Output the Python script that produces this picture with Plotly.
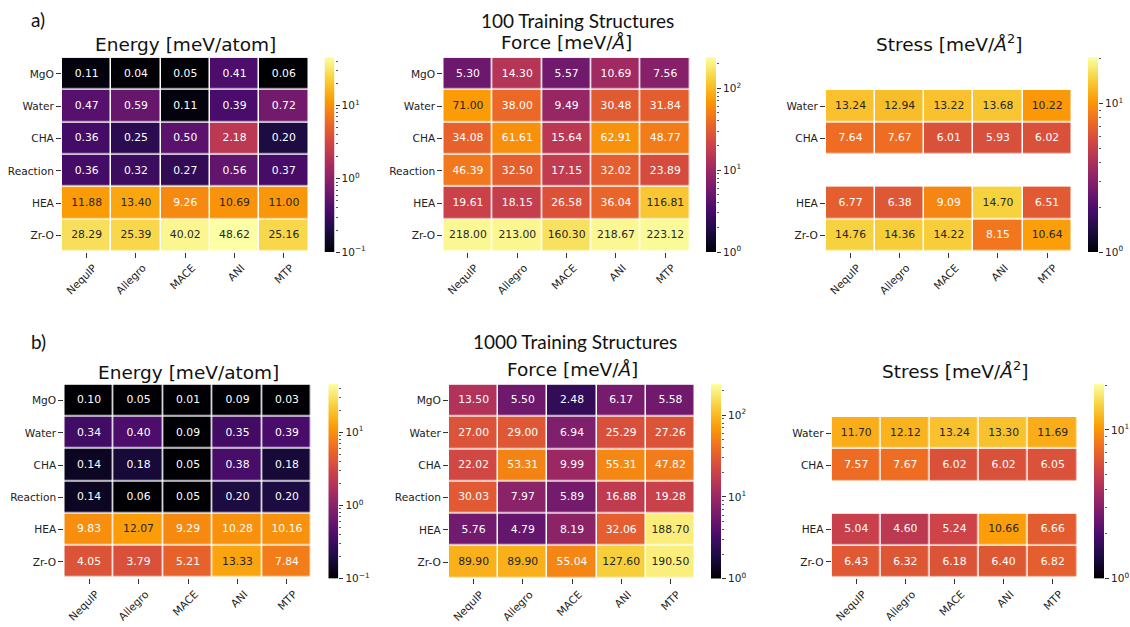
import numpy as np
import plotly.graph_objects as go
import plotly.colors as pc

# ---------------- data ----------------
models = ["NequIP", "Allegro", "MACE", "ANI", "MTP"]
systems = ["MgO", "Water", "CHA", "Reaction", "HEA", "Zr-O"]

energy_100 = [
    [0.11, 0.04, 0.05, 0.41, 0.06],
    [0.47, 0.59, 0.11, 0.39, 0.72],
    [0.36, 0.25, 0.50, 2.18, 0.20],
    [0.36, 0.32, 0.27, 0.56, 0.37],
    [11.88, 13.40, 9.26, 10.69, 11.00],
    [28.29, 25.39, 40.02, 48.62, 25.16],
]
force_100 = [
    [5.30, 14.30, 5.57, 10.69, 7.56],
    [71.00, 38.00, 9.49, 30.48, 31.84],
    [34.08, 61.61, 15.64, 62.91, 48.77],
    [46.39, 32.50, 17.15, 32.02, 23.89],
    [19.61, 18.15, 26.58, 36.04, 116.81],
    [218.00, 213.00, 160.30, 218.67, 223.12],
]
stress_100 = [
    [None, None, None, None, None],
    [13.24, 12.94, 13.22, 13.68, 10.22],
    [7.64, 7.67, 6.01, 5.93, 6.02],
    [None, None, None, None, None],
    [6.77, 6.38, 9.09, 14.70, 6.51],
    [14.76, 14.36, 14.22, 8.15, 10.64],
]
energy_1000 = [
    [0.10, 0.05, 0.01, 0.09, 0.03],
    [0.34, 0.40, 0.09, 0.35, 0.39],
    [0.14, 0.18, 0.05, 0.38, 0.18],
    [0.14, 0.06, 0.05, 0.20, 0.20],
    [9.83, 12.07, 9.29, 10.28, 10.16],
    [4.05, 3.79, 5.21, 13.33, 7.84],
]
force_1000 = [
    [13.50, 5.50, 2.48, 6.17, 5.58],
    [27.00, 29.00, 6.94, 25.29, 27.26],
    [22.02, 53.31, 9.99, 55.31, 47.82],
    [30.03, 7.97, 5.89, 16.88, 19.28],
    [5.76, 4.79, 8.19, 32.06, 188.70],
    [89.90, 89.90, 55.04, 127.60, 190.50],
]
stress_1000 = [
    [None, None, None, None, None],
    [11.70, 12.12, 13.24, 13.30, 11.69],
    [7.57, 7.67, 6.02, 6.02, 6.05],
    [None, None, None, None, None],
    [5.04, 4.60, 5.24, 10.66, 6.66],
    [6.43, 6.32, 6.18, 6.40, 6.82],
]

# log10 colour limits per quantity
energy_lim = (-1.0, 1.66)
force_lim = (0.0, 2.38)
stress_lim = (0.0, 1.31)

# ---------------- helpers ----------------
W, H = 1130, 627
INF = pc.sequential.Inferno
CSCALE = [[i / (len(INF) - 1), c] for i, c in enumerate(INF)]
INF_RGB = [pc.hex_to_rgb(c) for c in INF]
FONT = "DejaVu Sans"
TXT = "#222222"


def interp(t):
    t = min(max(t, 0.0), 1.0)
    n = len(INF_RGB) - 1
    i = min(int(t * n), n - 1)
    f = t * n - i
    a, b = INF_RGB[i], INF_RGB[i + 1]
    return [a[k] + (b[k] - a[k]) * f for k in range(3)]


def text_color(t):
    rgb = interp(t)
    lin = []
    for c in rgb:
        c = c / 255.0
        lin.append(c / 12.92 if c <= 0.03928 else ((c + 0.055) / 1.055) ** 2.4)
    lum = 0.2126 * lin[0] + 0.7152 * lin[1] + 0.0722 * lin[2]
    return "#262626" if lum > 0.408 else "white"


def xdom(a, b):
    return [a / W, b / W]


def ydom(top, bot):
    return [1 - bot / H, 1 - top / H]


def axname(n, ax):
    return f"{ax}axis" if n == 1 else f"{ax}axis{n}"


def axref(n, ax):
    return ax if n == 1 else f"{ax}{n}"


def sup(e):
    s = str(e).replace("-", "\u2212")
    return f"10<sup>{s}</sup>"


panels = [
    dict(data=energy_100, lim=energy_lim, heat=(62, 308.5, 58.3, 254), cbar=(324.5, 334.5, 57.7, 254.5),
         title="Energy [meV/atom]", ty=45),
    dict(data=force_100, lim=force_lim, heat=(443.3, 690, 58.3, 254), cbar=(706, 716, 57.7, 254.5),
         title="Force [meV/<i>Å</i>]", ty=43),
    dict(data=stress_100, lim=stress_lim, heat=(826, 1071.7, 90.8, 254), cbar=(1088, 1098, 57.7, 254.5),
         title="Stress [meV/<i>Å</i><sup>2</sup>]", ty=43),
    dict(data=energy_1000, lim=energy_lim, heat=(64.3, 311.7, 388.3, 583.5), cbar=(328.3, 338.3, 387.7, 584),
         title="Energy [meV/atom]", ty=376),
    dict(data=force_1000, lim=force_lim, heat=(449, 695, 388.3, 583.8), cbar=(711, 721, 387.7, 584.3),
         title="Force [meV/<i>Å</i>]", ty=373),
    dict(data=stress_1000, lim=stress_lim, heat=(831.7, 1077.3, 421, 583.5), cbar=(1094, 1104, 387.7, 584),
         title="Stress [meV/<i>Å</i><sup>2</sup>]", ty=374),
]

fig = go.Figure()
layout = {}
annotations = []
tickfont = dict(family=FONT, size=10.6, color=TXT)

for k, p in enumerate(panels):
    nh = 2 * k + 1
    nc = 2 * k + 2
    lo, hi = p["lim"]
    vals = p["data"]
    z = [[(np.log10(v) if v is not None else None) for v in row] for row in vals]

    fig.add_trace(go.Heatmap(
        x=list(range(len(models))), y=list(range(len(systems))), z=z,
        zmin=lo, zmax=hi, colorscale=CSCALE, showscale=False,
        xgap=1.5, ygap=1.5, hoverinfo="skip",
        xaxis=axref(nh, "x"), yaxis=axref(nh, "y"),
    ))

    xs, ys, tx, tc = [], [], [], []
    for i, row in enumerate(vals):
        for j, v in enumerate(row):
            if v is None:
                continue
            xs.append(j)
            ys.append(i)
            tx.append(f"{v:.2f}")
            tc.append(text_color((np.log10(v) - lo) / (hi - lo)))
    fig.add_trace(go.Scatter(
        x=xs, y=ys, text=tx, mode="text",
        textfont=dict(family=FONT, size=10.8, color=tc),
        hoverinfo="skip", showlegend=False,
        xaxis=axref(nh, "x"), yaxis=axref(nh, "y"),
    ))

    rows_present = [i for i, row in enumerate(vals) if any(v is not None for v in row)]
    first = rows_present[0]
    x0, x1, y0, y1 = p["heat"]
    layout[axname(nh, "x")] = dict(
        domain=xdom(x0, x1), anchor=axref(nh, "y"), range=[-0.5, len(models) - 0.5],
        tickmode="array", tickvals=list(range(len(models))), ticktext=models,
        tickangle=-45, ticks="outside", ticklen=5, tickwidth=1, tickcolor="#333333",
        showgrid=False, zeroline=False, showline=False, tickfont=tickfont,
        ticklabelshift=7, fixedrange=True,
    )
    layout[axname(nh, "y")] = dict(
        domain=ydom(y0, y1), anchor=axref(nh, "x"), range=[len(systems) - 0.5, first - 0.5],
        tickmode="array", tickvals=rows_present, ticktext=[systems[i] for i in rows_present],
        ticks="outside", ticklen=5, tickwidth=1, tickcolor="#333333",
        showgrid=False, zeroline=False, showline=False, tickfont=tickfont, fixedrange=True,
    )

    # colour bar drawn as its own small heatmap on a log-valued axis
    grid = list(np.linspace(lo, hi, 300))
    fig.add_trace(go.Heatmap(
        x=[0], y=grid, z=[[g] for g in grid], zmin=lo, zmax=hi,
        colorscale=CSCALE, showscale=False, hoverinfo="skip",
        xaxis=axref(nc, "x"), yaxis=axref(nc, "y"),
    ))
    majors = [e for e in range(int(np.floor(lo)), int(np.ceil(hi)) + 1) if lo - 1e-9 <= e <= hi + 1e-9]
    minors = []
    for e in range(int(np.floor(lo)), int(np.ceil(hi)) + 1):
        for m in range(2, 10):
            v = e + np.log10(m)
            if lo <= v <= hi + 0.02:
                minors.append(v)
    cx0, cx1, cy0, cy1 = p["cbar"]
    layout[axname(nc, "x")] = dict(domain=xdom(cx0, cx1), anchor=axref(nc, "y"), range=[-0.5, 0.5],
                                   visible=False, fixedrange=True)
    layout[axname(nc, "y")] = dict(
        domain=ydom(cy0, cy1), anchor=axref(nc, "x"), side="right", range=[lo, hi],
        tickmode="array", tickvals=majors, ticktext=[sup(e) for e in majors],
        ticks="outside", ticklen=4, tickwidth=1, tickcolor="#333333",
        minor=dict(tickmode="array", tickvals=minors, ticks="outside", ticklen=2,
                   tickwidth=1, tickcolor="#555555", showgrid=False),
        showgrid=False, zeroline=False, showline=False,
        tickfont=dict(family=FONT, size=10.5, color=TXT), fixedrange=True,
    )

    annotations.append(dict(
        text=p["title"], x=(x0 + x1) / 2 / W, y=1 - p["ty"] / H, xref="paper", yref="paper",
        xanchor="center", yanchor="middle", showarrow=False,
        font=dict(family=FONT, size=18.5, color="#111111"),
    ))

# panel labels and row headings
for lbl, x, y in [("a)", 29, 20), ("b)", 29, 344.5)]:
    annotations.append(dict(text=lbl, x=x / W, y=1 - y / H, xref="paper", yref="paper",
                            xanchor="left", yanchor="middle", showarrow=False,
                            font=dict(family="Lato", size=19, color="#111111")))
for lbl, x, y in [("100 Training Structures", 577, 20.5), ("1000 Training Structures", 574.5, 345)]:
    annotations.append(dict(text=lbl, x=x / W, y=1 - y / H, xref="paper", yref="paper",
                            xanchor="center", yanchor="middle", showarrow=False,
                            font=dict(family="Lato", size=19, color="#111111")))

fig.update_layout(
    width=W, height=H, margin=dict(l=0, r=0, t=0, b=0),
    paper_bgcolor="white", plot_bgcolor="white", showlegend=False,
    annotations=annotations, **layout,
)

fig.write_html("out.html", config={"displayModeBar": False},
               post_script="document.body.style.margin='0px';")
